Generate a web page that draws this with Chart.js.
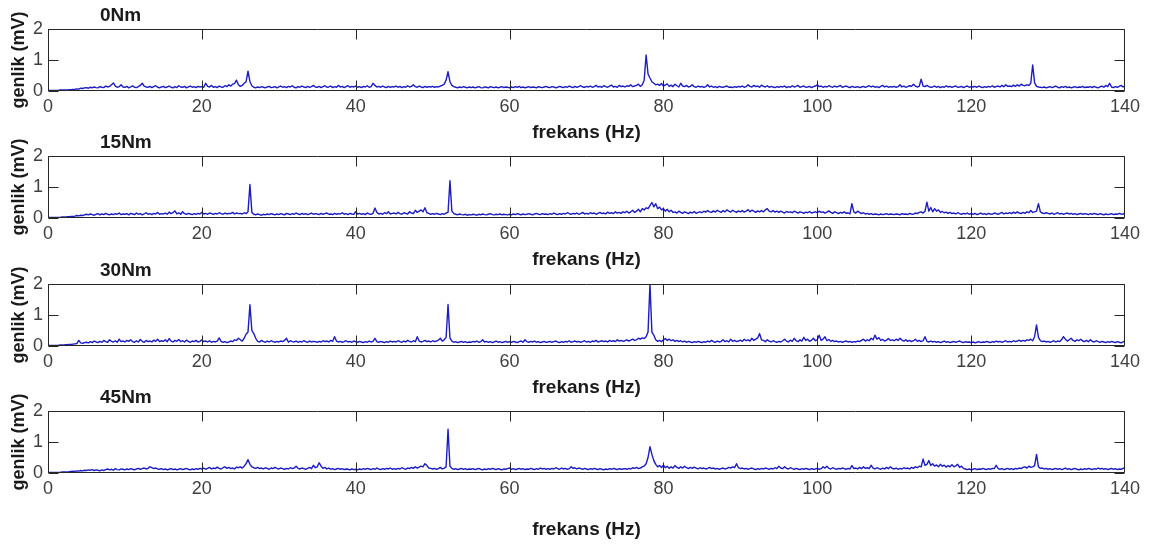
<!DOCTYPE html>
<html>
<head>
<meta charset="utf-8">
<script src="https://cdn.jsdelivr.net/npm/chart.js@4.4.1/dist/chart.umd.min.js"></script>
<style>
  html, body { margin: 0; padding: 0; background: #ffffff; }
  #wrap { position: relative; width: 1150px; height: 547px; overflow: hidden; background: #ffffff; }
  #wrap canvas { position: absolute; left: 0; }
</style>
</head>
<body>
<div id="wrap"></div>
<script>
// ---------------- DATA ----------------
const PANEL_TITLES = ['0Nm', '15Nm', '30Nm', '45Nm'];
const X_LABEL = 'frekans (Hz)';
const Y_LABEL = 'genlik (mV)';
const X_TICKS = [0, 20, 40, 60, 80, 100, 120, 140];
const Y_TICKS = [0, 1, 2];
const FREQ_STEP_HZ = 0.25;   // spectrum resolution, 0 .. 140 Hz

// amplitude (mV), one value every 0.25 Hz, each row = 5 Hz
const AMP_0NM = [
0.02,0.02,0.02,0.02,0.02, 0.02,0.03,0.03,0.03,0.03, 0.03,0.04,0.04,0.05,0.05, 0.07,0.06,0.09,0.08,0.1,
0.11,0.09,0.12,0.1,0.13, 0.11,0.1,0.14,0.12,0.11, 0.16,0.13,0.15,0.2,0.26, 0.16,0.12,0.14,0.2,0.13,
0.12,0.15,0.1,0.13,0.17, 0.12,0.11,0.14,0.18,0.25, 0.16,0.13,0.12,0.15,0.11, 0.14,0.17,0.12,0.1,0.13,
0.15,0.11,0.13,0.16,0.12, 0.1,0.14,0.11,0.17,0.13, 0.12,0.15,0.1,0.13,0.16, 0.12,0.14,0.11,0.15,0.13,
0.14,0.12,0.25,0.15,0.13, 0.18,0.12,0.14,0.11,0.16, 0.13,0.12,0.17,0.14,0.2, 0.16,0.22,0.24,0.35,0.2,
0.15,0.18,0.25,0.3,0.64, 0.3,0.17,0.12,0.1,0.13, 0.11,0.14,0.12,0.1,0.13, 0.15,0.11,0.12,0.14,0.1,
0.13,0.16,0.12,0.14,0.11, 0.15,0.13,0.17,0.12,0.1, 0.14,0.12,0.16,0.13,0.11, 0.15,0.12,0.14,0.18,0.13,
0.12,0.15,0.11,0.14,0.17, 0.12,0.13,0.16,0.11,0.14, 0.12,0.18,0.13,0.15,0.11, 0.14,0.17,0.12,0.15,0.13,
0.16,0.12,0.14,0.11,0.15, 0.13,0.17,0.12,0.14,0.25, 0.18,0.13,0.15,0.12,0.16, 0.13,0.11,0.15,0.12,0.14,
0.13,0.16,0.12,0.15,0.11, 0.14,0.12,0.17,0.13,0.15, 0.2,0.14,0.12,0.16,0.13, 0.11,0.15,0.12,0.14,0.13,
0.15,0.12,0.14,0.13,0.16, 0.18,0.22,0.35,0.62,0.3, 0.18,0.14,0.12,0.1,0.13, 0.11,0.14,0.12,0.1,0.13,
0.11,0.13,0.1,0.12,0.14, 0.11,0.1,0.13,0.12,0.1, 0.14,0.12,0.11,0.13,0.1, 0.12,0.14,0.11,0.13,0.12,
0.1,0.13,0.11,0.14,0.12, 0.15,0.11,0.13,0.1,0.12, 0.14,0.11,0.13,0.12,0.1, 0.14,0.12,0.11,0.13,0.15,
0.12,0.11,0.14,0.13,0.1, 0.12,0.15,0.13,0.11,0.14, 0.12,0.16,0.13,0.11,0.15, 0.12,0.14,0.17,0.13,0.12,
0.15,0.13,0.16,0.12,0.14, 0.18,0.13,0.15,0.12,0.17, 0.14,0.12,0.16,0.19,0.13, 0.15,0.12,0.18,0.14,0.16,
0.13,0.17,0.15,0.2,0.14, 0.16,0.18,0.22,0.15,0.2, 0.35,1.16,0.55,0.42,0.3, 0.25,0.2,0.22,0.18,0.24,
0.16,0.2,0.23,0.15,0.19, 0.14,0.22,0.17,0.13,0.25, 0.16,0.14,0.18,0.13,0.15, 0.2,0.14,0.12,0.16,0.13,
0.15,0.12,0.14,0.2,0.13, 0.16,0.12,0.14,0.11,0.15, 0.13,0.12,0.14,0.16,0.12, 0.13,0.11,0.14,0.12,0.15,
0.13,0.16,0.12,0.14,0.2, 0.15,0.13,0.18,0.14,0.16, 0.12,0.19,0.15,0.13,0.17, 0.12,0.15,0.13,0.11,0.14,
0.12,0.15,0.13,0.16,0.11, 0.14,0.12,0.17,0.13,0.15, 0.18,0.12,0.14,0.16,0.12, 0.13,0.15,0.11,0.14,0.16,
0.2,0.14,0.16,0.12,0.15, 0.13,0.17,0.14,0.12,0.16, 0.13,0.15,0.18,0.12,0.14, 0.16,0.13,0.11,0.15,0.13,
0.12,0.14,0.11,0.13,0.15, 0.12,0.14,0.17,0.13,0.16, 0.12,0.14,0.11,0.15,0.18, 0.13,0.16,0.12,0.14,0.13,
0.15,0.12,0.14,0.2,0.13, 0.16,0.12,0.14,0.17,0.15, 0.22,0.16,0.13,0.15,0.38, 0.16,0.14,0.18,0.14,0.12,
0.13,0.16,0.12,0.15,0.11, 0.14,0.12,0.17,0.13,0.15, 0.12,0.14,0.16,0.12,0.13, 0.15,0.11,0.14,0.16,0.12,
0.14,0.13,0.15,0.12,0.16, 0.13,0.11,0.14,0.12,0.15, 0.13,0.17,0.12,0.14,0.16, 0.13,0.18,0.14,0.2,0.15,
0.16,0.14,0.19,0.15,0.2, 0.16,0.22,0.18,0.17,0.2, 0.18,0.25,0.84,0.26,0.15, 0.13,0.12,0.11,0.13,0.1,
0.12,0.14,0.11,0.13,0.16, 0.12,0.1,0.14,0.12,0.15, 0.11,0.13,0.1,0.12,0.14, 0.11,0.13,0.12,0.15,0.11,
0.13,0.12,0.14,0.11,0.15, 0.12,0.1,0.13,0.16,0.12, 0.18,0.14,0.25,0.13,0.11, 0.14,0.12,0.15,0.18,0.13,
0.16
];

const AMP_15NM = [
0.02,0.02,0.02,0.02,0.02, 0.02,0.02,0.03,0.03,0.03, 0.04,0.04,0.05,0.05,0.06, 0.08,0.07,0.09,0.08,0.1,
0.12,0.1,0.13,0.11,0.09, 0.12,0.14,0.1,0.13,0.11, 0.15,0.12,0.1,0.13,0.11, 0.14,0.12,0.16,0.11,0.13,
0.12,0.14,0.1,0.15,0.13, 0.11,0.16,0.12,0.14,0.1, 0.13,0.17,0.12,0.14,0.11, 0.15,0.13,0.18,0.12,0.14,
0.13,0.16,0.12,0.19,0.14, 0.17,0.23,0.13,0.17,0.12, 0.2,0.14,0.12,0.15,0.13, 0.11,0.14,0.12,0.15,0.13,
0.18,0.13,0.15,0.12,0.16, 0.14,0.12,0.15,0.13,0.17, 0.14,0.12,0.16,0.13,0.15, 0.14,0.18,0.13,0.16,0.14,
0.15,0.13,0.17,0.14,0.2, 1.08,0.18,0.12,0.1,0.13, 0.11,0.09,0.12,0.1,0.13, 0.11,0.14,0.12,0.1,0.13,
0.11,0.14,0.12,0.1,0.15, 0.13,0.11,0.14,0.12,0.16, 0.13,0.11,0.15,0.12,0.14, 0.11,0.13,0.16,0.12,0.14,
0.13,0.11,0.15,0.12,0.14, 0.16,0.12,0.13,0.11,0.15, 0.12,0.14,0.13,0.17,0.12, 0.14,0.11,0.15,0.13,0.12,
0.2,0.13,0.15,0.12,0.14, 0.11,0.16,0.13,0.12,0.15, 0.32,0.18,0.13,0.15,0.12, 0.17,0.14,0.2,0.13,0.15,
0.16,0.13,0.18,0.14,0.12, 0.17,0.15,0.13,0.2,0.16, 0.14,0.25,0.18,0.22,0.26, 0.2,0.33,0.17,0.15,0.12,
0.14,0.12,0.15,0.13,0.11, 0.14,0.12,0.16,0.18,1.2, 0.22,0.14,0.12,0.1,0.13, 0.11,0.1,0.12,0.09,0.11,
0.1,0.12,0.11,0.09,0.12, 0.1,0.13,0.11,0.1,0.12, 0.14,0.11,0.1,0.12,0.11, 0.13,0.1,0.12,0.11,0.1,
0.12,0.1,0.13,0.11,0.14, 0.12,0.1,0.13,0.11,0.12, 0.14,0.12,0.1,0.13,0.15, 0.12,0.11,0.14,0.12,0.13,
0.11,0.14,0.12,0.16,0.13, 0.11,0.14,0.12,0.15,0.13, 0.17,0.14,0.12,0.15,0.13, 0.16,0.12,0.14,0.18,0.13,
0.15,0.13,0.17,0.14,0.16, 0.12,0.15,0.18,0.14,0.16, 0.13,0.19,0.15,0.17,0.14, 0.2,0.16,0.18,0.15,0.2,
0.17,0.22,0.16,0.2,0.25, 0.18,0.22,0.28,0.2,0.3, 0.26,0.33,0.3,0.4,0.5, 0.36,0.46,0.3,0.35,0.26,
0.3,0.22,0.28,0.2,0.25, 0.18,0.2,0.16,0.22,0.18, 0.15,0.2,0.17,0.14,0.19, 0.16,0.21,0.15,0.18,0.2,
0.17,0.22,0.19,0.24,0.2, 0.18,0.23,0.19,0.25,0.21, 0.18,0.24,0.2,0.26,0.22, 0.19,0.25,0.21,0.18,0.23,
0.2,0.24,0.19,0.22,0.27, 0.2,0.25,0.22,0.18,0.23, 0.2,0.24,0.2,0.26,0.3, 0.22,0.2,0.24,0.19,0.22,
0.18,0.22,0.19,0.16,0.21, 0.18,0.2,0.17,0.22,0.19, 0.16,0.2,0.18,0.15,0.19, 0.17,0.21,0.16,0.18,0.2,
0.17,0.22,0.18,0.2,0.16, 0.19,0.23,0.18,0.15,0.2, 0.17,0.14,0.18,0.16,0.2, 0.15,0.17,0.13,0.46,0.2,
0.16,0.22,0.18,0.14,0.17, 0.13,0.15,0.12,0.14,0.11, 0.13,0.12,0.1,0.13,0.11, 0.12,0.14,0.11,0.13,0.12,
0.11,0.13,0.12,0.1,0.14, 0.12,0.13,0.11,0.15,0.13, 0.12,0.16,0.14,0.18,0.2, 0.16,0.22,0.51,0.22,0.34,
0.2,0.3,0.22,0.26,0.18, 0.21,0.17,0.19,0.15,0.18, 0.14,0.16,0.13,0.17,0.14, 0.12,0.15,0.13,0.16,0.12,
0.14,0.12,0.15,0.11,0.13, 0.16,0.12,0.14,0.11,0.15, 0.13,0.12,0.16,0.14,0.12, 0.15,0.18,0.13,0.16,0.14,
0.17,0.14,0.19,0.15,0.2, 0.16,0.14,0.18,0.15,0.2, 0.17,0.24,0.18,0.2,0.22, 0.46,0.2,0.16,0.14,0.17,
0.15,0.13,0.16,0.12,0.14, 0.17,0.13,0.15,0.12,0.14, 0.16,0.13,0.15,0.12,0.14, 0.11,0.13,0.15,0.12,0.14,
0.13,0.11,0.14,0.12,0.15, 0.13,0.11,0.14,0.12,0.1, 0.13,0.11,0.12,0.14,0.11, 0.13,0.12,0.15,0.13,0.12,
0.18
];

const AMP_30NM = [
0.02,0.02,0.02,0.02,0.02, 0.02,0.03,0.03,0.03,0.04, 0.04,0.05,0.05,0.06,0.07, 0.08,0.18,0.1,0.09,0.11,
0.12,0.1,0.14,0.11,0.16, 0.13,0.11,0.15,0.12,0.18, 0.14,0.12,0.2,0.15,0.13, 0.17,0.12,0.22,0.14,0.16,
0.13,0.18,0.15,0.2,0.14, 0.12,0.17,0.13,0.21,0.15, 0.12,0.18,0.14,0.16,0.13, 0.19,0.15,0.22,0.14,0.17,
0.15,0.2,0.14,0.24,0.16, 0.13,0.18,0.15,0.21,0.14, 0.17,0.13,0.19,0.15,0.12, 0.16,0.14,0.18,0.13,0.15,
0.2,0.14,0.16,0.13,0.17, 0.12,0.15,0.13,0.16,0.26, 0.15,0.12,0.14,0.11,0.13, 0.16,0.14,0.2,0.18,0.25,
0.2,0.16,0.25,0.38,0.45, 1.33,0.5,0.4,0.25,0.15, 0.13,0.18,0.14,0.12,0.16, 0.13,0.17,0.14,0.12,0.15,
0.13,0.16,0.14,0.18,0.25, 0.12,0.17,0.14,0.13,0.16, 0.12,0.15,0.13,0.17,0.14, 0.12,0.16,0.13,0.15,0.14,
0.12,0.15,0.13,0.17,0.14, 0.16,0.13,0.18,0.15,0.3, 0.16,0.13,0.15,0.12,0.14, 0.17,0.13,0.15,0.12,0.16,
0.14,0.12,0.15,0.13,0.11, 0.14,0.12,0.16,0.13,0.15, 0.25,0.14,0.12,0.15,0.13, 0.11,0.14,0.12,0.16,0.13,
0.15,0.13,0.17,0.14,0.12, 0.16,0.13,0.18,0.15,0.13, 0.17,0.14,0.3,0.16,0.13, 0.15,0.18,0.14,0.16,0.13,
0.17,0.14,0.16,0.19,0.25, 0.16,0.2,0.28,1.34,0.26, 0.16,0.12,0.14,0.11,0.13, 0.15,0.12,0.14,0.11,0.13,
0.12,0.15,0.13,0.16,0.12, 0.14,0.2,0.13,0.15,0.12, 0.14,0.11,0.13,0.16,0.12, 0.14,0.11,0.13,0.15,0.12,
0.14,0.12,0.15,0.13,0.11, 0.14,0.16,0.12,0.2,0.14, 0.12,0.15,0.13,0.16,0.12, 0.14,0.11,0.13,0.15,0.12,
0.13,0.15,0.12,0.14,0.16, 0.13,0.11,0.14,0.12,0.15, 0.13,0.17,0.12,0.14,0.16, 0.13,0.15,0.12,0.14,0.17,
0.13,0.15,0.12,0.16,0.14, 0.18,0.13,0.15,0.17,0.14, 0.16,0.13,0.18,0.15,0.17, 0.14,0.2,0.16,0.18,0.15,
0.17,0.2,0.16,0.19,0.22, 0.18,0.2,0.25,0.22,0.26, 0.24,0.3,0.45,2.0,0.45, 0.35,0.2,0.15,0.18,0.14,
0.2,0.24,0.18,0.22,0.17, 0.2,0.15,0.18,0.14,0.17, 0.13,0.16,0.12,0.15,0.13, 0.11,0.14,0.12,0.15,0.13,
0.11,0.14,0.12,0.16,0.13, 0.18,0.14,0.12,0.16,0.13, 0.15,0.2,0.14,0.17,0.13, 0.22,0.15,0.18,0.14,0.16,
0.19,0.15,0.22,0.17,0.2, 0.16,0.25,0.18,0.22,0.26, 0.4,0.2,0.18,0.14,0.2, 0.16,0.13,0.17,0.14,0.12,
0.15,0.13,0.17,0.22,0.16, 0.13,0.19,0.15,0.25,0.17, 0.14,0.2,0.16,0.28,0.18, 0.22,0.15,0.19,0.25,0.17,
0.2,0.35,0.18,0.22,0.3, 0.17,0.21,0.15,0.18,0.14, 0.16,0.13,0.15,0.12,0.14, 0.16,0.13,0.15,0.12,0.14,
0.13,0.16,0.14,0.18,0.22, 0.16,0.2,0.17,0.25,0.2, 0.35,0.22,0.27,0.18,0.21, 0.16,0.19,0.24,0.18,0.2,
0.17,0.22,0.18,0.25,0.19, 0.16,0.2,0.15,0.18,0.14, 0.17,0.22,0.15,0.18,0.14, 0.17,0.3,0.15,0.13,0.16,
0.13,0.15,0.12,0.14,0.11, 0.13,0.16,0.12,0.14,0.11, 0.13,0.15,0.12,0.14,0.16, 0.13,0.11,0.14,0.12,0.13,
0.11,0.13,0.1,0.12,0.14, 0.11,0.13,0.12,0.15,0.13, 0.11,0.14,0.12,0.16,0.13, 0.15,0.12,0.14,0.17,0.13,
0.15,0.13,0.17,0.14,0.16, 0.19,0.15,0.18,0.16,0.2, 0.18,0.22,0.17,0.3,0.68, 0.28,0.17,0.14,0.16,0.13,
0.15,0.12,0.14,0.17,0.13, 0.16,0.14,0.2,0.3,0.22, 0.16,0.2,0.25,0.18,0.15, 0.2,0.17,0.22,0.16,0.14,
0.18,0.14,0.2,0.15,0.13, 0.17,0.14,0.12,0.15,0.13, 0.11,0.14,0.12,0.15,0.13, 0.11,0.14,0.12,0.1,0.13,
0.16
];

const AMP_45NM = [
0.02,0.02,0.02,0.02,0.02, 0.02,0.02,0.03,0.03,0.03, 0.03,0.04,0.05,0.06,0.05, 0.07,0.06,0.08,0.07,0.09,
0.08,0.1,0.09,0.11,0.08, 0.1,0.09,0.07,0.1,0.08, 0.11,0.13,0.1,0.12,0.09, 0.14,0.11,0.1,0.13,0.12,
0.1,0.13,0.11,0.14,0.12, 0.1,0.13,0.15,0.12,0.14, 0.16,0.13,0.15,0.2,0.17, 0.14,0.16,0.13,0.12,0.14,
0.11,0.13,0.1,0.12,0.14, 0.11,0.13,0.1,0.12,0.14, 0.11,0.13,0.15,0.12,0.1, 0.13,0.11,0.14,0.12,0.15,
0.13,0.16,0.12,0.15,0.18, 0.13,0.16,0.14,0.19,0.15, 0.13,0.17,0.2,0.15,0.18, 0.14,0.16,0.13,0.19,0.17,
0.2,0.16,0.22,0.3,0.43, 0.28,0.2,0.17,0.15,0.18, 0.14,0.16,0.13,0.17,0.15, 0.12,0.16,0.14,0.18,0.15,
0.13,0.16,0.14,0.12,0.15, 0.13,0.17,0.14,0.16,0.22, 0.15,0.13,0.16,0.14,0.12, 0.15,0.18,0.14,0.25,0.17,
0.2,0.33,0.22,0.15,0.18, 0.13,0.16,0.12,0.14,0.11, 0.13,0.15,0.12,0.14,0.11, 0.13,0.12,0.1,0.13,0.11,
0.12,0.1,0.13,0.11,0.14, 0.12,0.15,0.13,0.11,0.14, 0.12,0.16,0.13,0.11,0.14, 0.12,0.15,0.13,0.16,0.12,
0.14,0.12,0.15,0.13,0.17, 0.14,0.12,0.16,0.14,0.18, 0.15,0.2,0.16,0.19,0.22, 0.2,0.3,0.24,0.16,0.15,
0.13,0.15,0.12,0.14,0.18, 0.13,0.16,0.2,1.41,0.22, 0.15,0.12,0.14,0.11,0.13, 0.15,0.12,0.14,0.11,0.13,
0.12,0.14,0.11,0.13,0.15, 0.12,0.1,0.13,0.11,0.14, 0.12,0.15,0.13,0.11,0.14, 0.12,0.1,0.13,0.12,0.14,
0.16,0.12,0.14,0.11,0.13, 0.15,0.12,0.14,0.11,0.13, 0.12,0.15,0.13,0.11,0.14, 0.12,0.16,0.13,0.15,0.12,
0.14,0.12,0.15,0.13,0.17, 0.14,0.12,0.16,0.13,0.15, 0.12,0.14,0.2,0.15,0.17, 0.13,0.16,0.14,0.12,0.15,
0.13,0.11,0.14,0.12,0.15, 0.13,0.11,0.14,0.12,0.1, 0.13,0.11,0.14,0.12,0.15, 0.13,0.11,0.14,0.12,0.13,
0.14,0.12,0.15,0.13,0.17, 0.15,0.18,0.14,0.16,0.2, 0.22,0.3,0.5,0.85,0.6, 0.4,0.28,0.2,0.24,0.18,
0.25,0.17,0.22,0.15,0.2, 0.16,0.24,0.18,0.15,0.2, 0.16,0.22,0.17,0.14,0.18, 0.15,0.19,0.16,0.13,0.17,
0.14,0.16,0.13,0.15,0.18, 0.14,0.16,0.13,0.15,0.12, 0.14,0.16,0.13,0.15,0.18, 0.16,0.2,0.17,0.3,0.17,
0.14,0.16,0.13,0.15,0.12, 0.14,0.16,0.13,0.11,0.14, 0.12,0.15,0.13,0.16,0.14, 0.12,0.15,0.13,0.17,0.14,
0.22,0.16,0.14,0.2,0.15, 0.13,0.17,0.14,0.12,0.15, 0.13,0.11,0.14,0.12,0.15, 0.13,0.11,0.14,0.12,0.13,
0.15,0.12,0.14,0.2,0.16, 0.22,0.15,0.13,0.17,0.14, 0.12,0.15,0.13,0.16,0.14, 0.12,0.15,0.13,0.24,0.14,
0.16,0.13,0.18,0.14,0.2, 0.15,0.17,0.14,0.25,0.16, 0.13,0.17,0.14,0.12,0.16, 0.13,0.18,0.14,0.2,0.15,
0.13,0.16,0.12,0.15,0.13, 0.17,0.14,0.16,0.13,0.18, 0.15,0.2,0.17,0.22,0.2, 0.45,0.25,0.28,0.4,0.24,
0.3,0.22,0.26,0.2,0.28, 0.22,0.25,0.19,0.24,0.2, 0.27,0.2,0.23,0.28,0.18, 0.22,0.15,0.13,0.11,0.13,
0.1,0.12,0.14,0.11,0.13, 0.12,0.15,0.13,0.11,0.14, 0.12,0.15,0.14,0.25,0.15, 0.12,0.14,0.11,0.13,0.15,
0.12,0.14,0.11,0.15,0.13, 0.16,0.14,0.18,0.2,0.16, 0.22,0.18,0.2,0.24,0.6, 0.2,0.15,0.16,0.13,0.15,
0.12,0.14,0.11,0.13,0.15, 0.12,0.14,0.11,0.13,0.16, 0.12,0.14,0.11,0.13,0.15, 0.12,0.1,0.13,0.11,0.14,
0.12,0.15,0.13,0.11,0.14, 0.12,0.16,0.13,0.15,0.12, 0.14,0.11,0.13,0.15,0.12, 0.14,0.11,0.13,0.12,0.15,
0.18
];

const SERIES = [AMP_0NM, AMP_15NM, AMP_30NM, AMP_45NM];

// ---------------- LAYOUT / STYLE ----------------
const FONT = '"Liberation Sans", Arial, Helvetica, sans-serif';
const LINE_COLOR = '#1c1cc0';
const AXIS_COLOR = '#262626';
const TICK_COLOR = '#404040';
const LABEL_COLOR = '#1a1a1a';
const PLOT_TOPS = [29, 156, 284, 411];
const PLOT_H = 62;
const TOP_PAD = 29;
const X_AXIS_H = [53, 53, 53, 68];
const Y_AXIS_W = 48;
const RIGHT_PAD = 25;
const TICK_LEN = 10;

Chart.defaults.font.family = FONT;

const matlabAxes = {
  id: 'matlabAxes',
  afterDraw(chart, args, opts) {
    const { ctx, chartArea: a, scales } = chart;
    const x = scales.x, y = scales.y;
    const L = Math.round(a.left) + 0.5, R = Math.round(a.right) - 0.5;
    const T = Math.round(a.top) + 0.5, B = Math.round(a.bottom) - 0.5;
    ctx.save();
    ctx.strokeStyle = AXIS_COLOR;
    ctx.lineWidth = 1;
    ctx.beginPath();
    ctx.rect(L, T, R - L, B - T);
    X_TICKS.forEach(v => {
      let px = Math.round(x.getPixelForValue(v)) + 0.5;
      if (px > R) px = R;
      ctx.moveTo(px, B); ctx.lineTo(px, B - TICK_LEN);
      ctx.moveTo(px, T); ctx.lineTo(px, T + TICK_LEN);
    });
    Y_TICKS.forEach(v => {
      const py = Math.round(y.getPixelForValue(v)) + 0.5;
      ctx.moveTo(L, py); ctx.lineTo(L + TICK_LEN, py);
      ctx.moveTo(R, py); ctx.lineTo(R - TICK_LEN, py);
    });
    ctx.stroke();
    // panel title
    ctx.fillStyle = LABEL_COLOR;
    ctx.font = 'bold 19px ' + FONT;
    ctx.textAlign = 'left';
    ctx.textBaseline = 'middle';
    ctx.fillText(opts.title, 100, a.top - 13.5);
    ctx.restore();
  }
};

const wrap = document.getElementById('wrap');
const nPts = AMP_0NM.length;
const FREQ = [];
for (let k = 0; k < nPts; k++) FREQ.push(k * FREQ_STEP_HZ);

SERIES.forEach((amp, i) => {
  const cv = document.createElement('canvas');
  const h = TOP_PAD + PLOT_H + X_AXIS_H[i];
  cv.width = 1150; cv.height = h;
  cv.style.width = '1150px'; cv.style.height = h + 'px';
  cv.style.top = (PLOT_TOPS[i] - TOP_PAD) + 'px';
  wrap.appendChild(cv);
  new Chart(cv, {
    type: 'line',
    data: {
      datasets: [{
        data: amp.map((v, k) => ({ x: FREQ[k], y: v })),
        borderColor: LINE_COLOR,
        borderWidth: 1.4,
        borderJoinStyle: 'round',
        pointRadius: 0,
        tension: 0,
        fill: false
      }]
    },
    options: {
      responsive: false,
      animation: false,
      devicePixelRatio: 1,
      events: [],
      layout: { padding: { top: TOP_PAD, right: RIGHT_PAD, bottom: 0, left: 0 } },
      plugins: {
        legend: { display: false },
        tooltip: { enabled: false },
        title: { display: false },
        matlabAxes: { title: PANEL_TITLES[i] }
      },
      scales: {
        x: {
          type: 'linear', min: 0, max: 140,
          afterBuildTicks: s => { s.ticks = X_TICKS.map(v => ({ value: v })); },
          afterFit: s => { s.height = X_AXIS_H[i]; s.paddingLeft = 0; s.paddingRight = 0; },
          grid: { display: false, drawTicks: false },
          border: { display: false },
          ticks: { padding: 5, color: TICK_COLOR, font: { size: 18 }, maxRotation: 0, autoSkip: false },
          title: { display: true, text: X_LABEL, color: LABEL_COLOR, font: { size: 19, weight: 'bold' }, padding: 0 }
        },
        y: {
          type: 'linear', min: 0, max: 2,
          afterBuildTicks: s => { s.ticks = Y_TICKS.map(v => ({ value: v })); },
          afterFit: s => { s.width = Y_AXIS_W; s.paddingTop = 0; s.paddingBottom = 0; },
          grid: { display: false, drawTicks: false },
          border: { display: false },
          ticks: { padding: 5, color: TICK_COLOR, font: { size: 18 } },
          title: { display: true, text: Y_LABEL, color: LABEL_COLOR, font: { size: 18, weight: 'bold' }, padding: { top: 8, bottom: 0 } }
        }
      }
    },
    plugins: [matlabAxes]
  });
});
</script>
</body>
</html>
